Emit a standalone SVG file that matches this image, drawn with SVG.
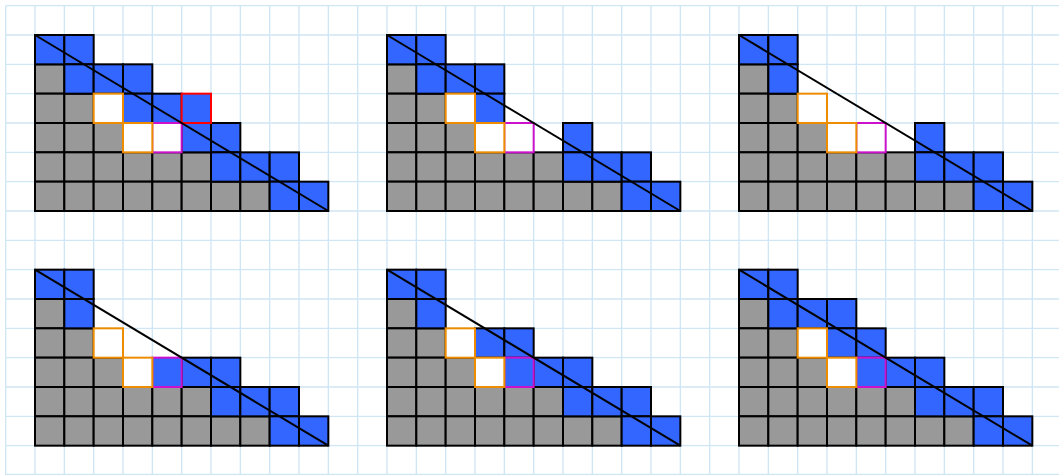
<svg xmlns="http://www.w3.org/2000/svg" xmlns:xlink="http://www.w3.org/1999/xlink" width="1059" height="475" viewBox="0 0 1059 475">
<style>
.grid{fill:none;stroke:#cfe6f5;stroke-width:1.3}
.b{fill:#3366ff;stroke:#000;stroke-width:2}
.g{fill:#999999;stroke:#000;stroke-width:2}
.o{fill:#ffffff;stroke:#ee8c00;stroke-width:2}
.ob{fill:#3366ff;stroke:#ee8c00;stroke-width:2}
.m{fill:#ffffff;stroke:#cc11cc;stroke-width:2}
.mb{fill:#3366ff;stroke:#cc11cc;stroke-width:2}
.r{fill:#3366ff;stroke:#ff0000;stroke-width:2}
.d{stroke:#000;stroke-width:2;fill:none}
</style>
<defs>
<rect id="c" width="29.333" height="29.333"/>
<g id="base">
<use href="#c" class="g" x="0" y="29.333"/>
<use href="#c" class="g" x="0" y="58.667"/>
<use href="#c" class="g" x="29.333" y="58.667"/>
<use href="#c" class="g" x="0" y="88"/>
<use href="#c" class="g" x="29.333" y="88"/>
<use href="#c" class="g" x="58.667" y="88"/>
<use href="#c" class="g" x="0" y="117.333"/>
<use href="#c" class="g" x="29.333" y="117.333"/>
<use href="#c" class="g" x="58.667" y="117.333"/>
<use href="#c" class="g" x="88" y="117.333"/>
<use href="#c" class="g" x="117.333" y="117.333"/>
<use href="#c" class="g" x="146.667" y="117.333"/>
<use href="#c" class="g" x="0" y="146.667"/>
<use href="#c" class="g" x="29.333" y="146.667"/>
<use href="#c" class="g" x="58.667" y="146.667"/>
<use href="#c" class="g" x="88" y="146.667"/>
<use href="#c" class="g" x="117.333" y="146.667"/>
<use href="#c" class="g" x="146.667" y="146.667"/>
<use href="#c" class="g" x="176" y="146.667"/>
<use href="#c" class="g" x="205.333" y="146.667"/>
<use href="#c" class="b" x="0" y="0"/>
<use href="#c" class="b" x="29.333" y="0"/>
<use href="#c" class="b" x="29.333" y="29.333"/>
<use href="#c" class="b" x="176" y="88"/>
<use href="#c" class="b" x="176" y="117.333"/>
<use href="#c" class="b" x="205.333" y="117.333"/>
<use href="#c" class="b" x="234.667" y="117.333"/>
<use href="#c" class="b" x="234.667" y="146.667"/>
<use href="#c" class="b" x="264" y="146.667"/>
</g>
</defs>
<path class="grid" d="M5.67 5.67V475M35 5.67V475M64.33 5.67V475M93.67 5.67V475M123 5.67V475M152.33 5.67V475M181.67 5.67V475M211 5.67V475M240.33 5.67V475M269.67 5.67V475M299 5.67V475M328.33 5.67V475M357.67 5.67V475M387 5.67V475M416.33 5.67V475M445.67 5.67V475M475 5.67V475M504.33 5.67V475M533.67 5.67V475M563 5.67V475M592.33 5.67V475M621.67 5.67V475M651 5.67V475M680.33 5.67V475M709.67 5.67V475M739 5.67V475M768.33 5.67V475M797.67 5.67V475M827 5.67V475M856.33 5.67V475M885.67 5.67V475M915 5.67V475M944.33 5.67V475M973.67 5.67V475M1003 5.67V475M1032.33 5.67V475M5.67 5.67H1059M5.67 35H1059M5.67 64.33H1059M5.67 93.67H1059M5.67 123H1059M5.67 152.33H1059M5.67 181.67H1059M5.67 211H1059M5.67 240.33H1059M5.67 269.67H1059M5.67 299H1059M5.67 328.33H1059M5.67 357.67H1059M5.67 387H1059M5.67 416.33H1059M5.67 445.67H1059M5.67 474.5H1059"/>

<g id="panel1" transform="translate(35,35)">
<use href="#base"/>
<use href="#c" class="b" x="58.667" y="29.333"/>
<use href="#c" class="b" x="88" y="29.333"/>
<use href="#c" class="b" x="88" y="58.667"/>
<use href="#c" class="b" x="117.333" y="58.667"/>
<use href="#c" class="b" x="146.667" y="88"/>
<use href="#c" class="m" x="117.333" y="88"/>
<use href="#c" class="o" x="58.667" y="58.667"/>
<use href="#c" class="o" x="88" y="88"/>
<use href="#c" class="r" x="146.667" y="58.667"/>
<path class="d" d="M0 0L293.333 176"/>
</g>

<g id="panel2" transform="translate(387,35)">
<use href="#base"/>
<use href="#c" class="b" x="58.667" y="29.333"/>
<use href="#c" class="b" x="88" y="29.333"/>
<use href="#c" class="b" x="88" y="58.667"/>
<use href="#c" class="m" x="117.333" y="88"/>
<use href="#c" class="o" x="58.667" y="58.667"/>
<use href="#c" class="o" x="88" y="88"/>
<path class="d" d="M0 0L293.333 176"/>
</g>

<g id="panel3" transform="translate(739,35)">
<use href="#base"/>
<use href="#c" class="m" x="117.333" y="88"/>
<use href="#c" class="o" x="58.667" y="58.667"/>
<use href="#c" class="o" x="88" y="88"/>
<path class="d" d="M0 0L293.333 176"/>
</g>

<g id="panel4" transform="translate(35,269.667)">
<use href="#base"/>
<use href="#c" class="b" x="146.667" y="88"/>
<use href="#c" class="mb" x="117.333" y="88"/>
<use href="#c" class="o" x="58.667" y="58.667"/>
<use href="#c" class="o" x="88" y="88"/>
<path class="d" d="M0 0L293.333 176"/>
</g>

<g id="panel5" transform="translate(387,269.667)">
<use href="#base"/>
<use href="#c" class="b" x="88" y="58.667"/>
<use href="#c" class="b" x="117.333" y="58.667"/>
<use href="#c" class="b" x="146.667" y="88"/>
<use href="#c" class="mb" x="117.333" y="88"/>
<use href="#c" class="o" x="58.667" y="58.667"/>
<use href="#c" class="o" x="88" y="88"/>
<path class="d" d="M0 0L293.333 176"/>
</g>

<g id="panel6" transform="translate(739,269.667)">
<use href="#base"/>
<use href="#c" class="b" x="58.667" y="29.333"/>
<use href="#c" class="b" x="88" y="29.333"/>
<use href="#c" class="b" x="88" y="58.667"/>
<use href="#c" class="b" x="117.333" y="58.667"/>
<use href="#c" class="b" x="146.667" y="88"/>
<use href="#c" class="mb" x="117.333" y="88"/>
<use href="#c" class="o" x="58.667" y="58.667"/>
<use href="#c" class="o" x="88" y="88"/>
<path class="d" d="M0 0L293.333 176"/>
</g>
</svg>
